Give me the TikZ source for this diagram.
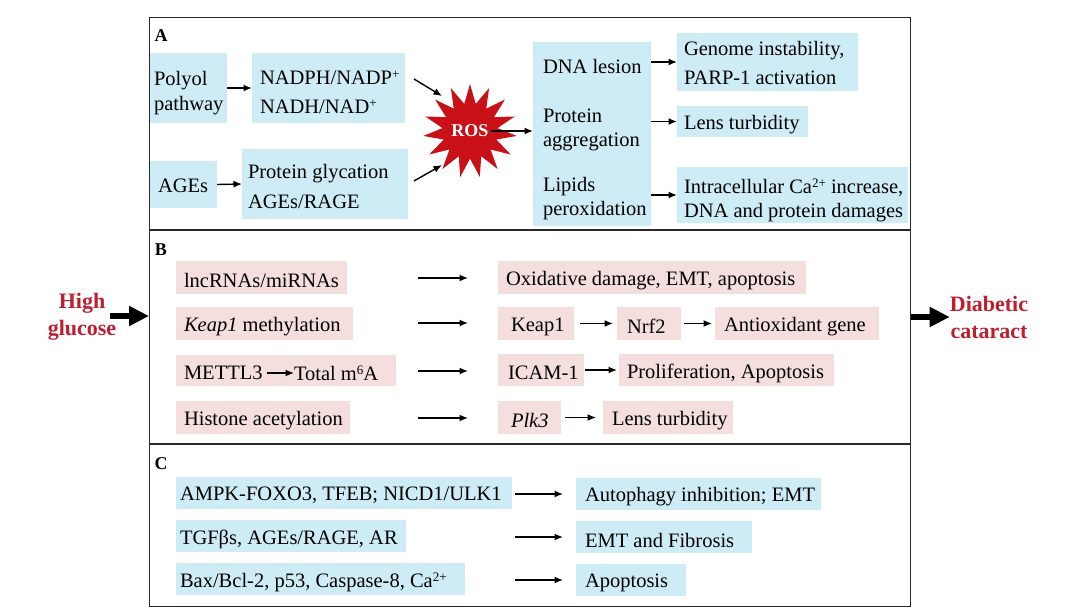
\documentclass[tikz,border=0pt]{standalone}
\usepackage{fontspec}
\setmainfont{Liberation Serif}
\usetikzlibrary{arrows.meta,shapes.geometric}
\definecolor{cyanb}{RGB}{206,236,246}
\definecolor{pinkb}{RGB}{244,222,222}
\definecolor{hgred}{RGB}{190,30,45}
\definecolor{rosred}{RGB}{200,16,22}
\definecolor{framec}{RGB}{40,40,40}
\newcommand{\sps}[1]{\raisebox{6pt}{\fontsize{13}{13}\selectfont #1}}
\newcommand{\bx}[9]{%
 \pgfmathsetmacro{\bxw}{#4-#2}%
 \pgfmathsetmacro{\bxh}{#5-#3}%
 \node[boxbg, fill=#6, minimum width=\bxw pt, minimum height=\bxh pt, anchor=north west] (#1) at (#2,#3) {};%
 \node[txt, anchor=west] (#1-t) at ([xshift=#7pt,yshift=-#9pt]#1.west) {#8};%
}
\begin{document}
\begin{tikzpicture}[x=1pt,y=-1pt,
 boxbg/.style={inner sep=0pt,outer sep=0pt,draw=none},
 txt/.style={inner sep=0pt,outer sep=0pt,font=\fontsize{20.5}{24}\selectfont,align=left,text=black},
 arr/.style={line width=1.4pt,-{Latex[length=8.5pt,width=7pt]}},
 bigarr/.style={line width=6pt,-{Triangle[length=20pt,width=19pt]}},
 plabel/.style={font=\bfseries\fontsize{18}{20}\selectfont,inner sep=0pt},
 redlab/.style={font=\bfseries\fontsize{22}{27}\selectfont,text=hgred,align=center,inner sep=0pt}]
\useasboundingbox (0,0) rectangle (1080,608);
\fill[white] (0,0) rectangle (1080,608);
% frame
\node[draw=framec,line width=1.3pt,minimum width=761pt,minimum height=589pt,anchor=north west,inner sep=0pt] (frame) at (149,17) {};
\draw[framec,line width=1.8pt] (149,230) -- (910,230);
\draw[framec,line width=1.8pt] (149,444) -- (910,444);
% ---------- Panel A
\node[plabel] (la) at (161,36) {A};
\bx{polyol}{150}{53}{227}{123}{cyanb}{4}{Polyol\\[1pt]pathway}{5}
\bx{nad}{252}{53}{405}{123}{cyanb}{8}{NADPH/NADP\sps{+}\\[5pt]NADH/NAD\sps{+}}{4}
\bx{ages}{150}{161}{217}{208}{cyanb}{8}{AGEs}{1}
\bx{pg}{242}{149}{408}{219}{cyanb}{6}{Protein glycation\\[6pt]AGEs/RAGE}{2}
\node[star,star points=15,star point ratio=1.7,minimum size=94pt,fill=rosred,inner sep=0pt,font=\bfseries\fontsize{18}{20}\selectfont,text=white] (ros) at (470,131) {ROS};
\draw[arr] (polyol.east) -- (nad.west);
\draw[arr] (ages.east) -- (pg.west);
\coordinate (r1s) at (414,79); \coordinate (r1e) at (442,96);
\coordinate (r2s) at (414,181); \coordinate (r2e) at (442,165);
\draw[arr] (r1s) -- (r1e);
\draw[arr] (r2s) -- (r2e);
\node[boxbg,fill=cyanb,minimum width=118pt,minimum height=184pt,anchor=north west] (big) at (533,42) {};
\node[txt,anchor=west] (dna) at (543,66) {DNA lesion};
\node[txt,anchor=west] (prot) at (543,129.5) {Protein\\aggregation};
\node[txt,anchor=west] (lip) at (543,198.5) {Lipids\\peroxidation};
\draw[arr] ([xshift=-14pt]ros.east) -- (ros.east -| big.west);
\bx{gen}{677}{33}{858}{91}{cyanb}{7}{Genome instability,\\[5pt]PARP-1 activation}{1}
\bx{lens}{677}{106}{808}{137}{cyanb}{7}{Lens turbidity}{3}
\bx{intra}{677}{167}{908}{223}{cyanb}{7}{Intracellular Ca\sps{2+} increase,\\DNA and protein damages}{5}
\draw[arr] (big.east |- gen.west) -- (gen.west);
\draw[arr] (big.east |- lens.west) -- (lens.west);
\draw[arr] (big.east |- intra.west) -- (intra.west);
% ---------- Panel B
\node[plabel] (lb) at (161,250) {B};
\bx{lnc}{176}{261}{347}{294}{pinkb}{8}{lncRNAs/miRNAs}{3}
\bx{kmeth}{176}{307}{353}{340}{pinkb}{8}{\textit{Keap1} methylation}{3}
\node[boxbg,fill=pinkb,minimum width=220pt,minimum height=31pt,anchor=north west] (mettbox) at (176,355) {};
\node[txt,anchor=west] (mett) at (184,373) {METTL3};
\node[txt,anchor=west] (m6a) at (294,373) {Total m\sps{6}A};
\draw[arr,shorten <=4pt] (mett.east) -- (m6a.west);
\bx{hist}{176}{401}{350}{434}{pinkb}{8}{Histone acetylation}{3}
\bx{ox}{498}{261}{806}{294}{pinkb}{8}{Oxidative damage, EMT, apoptosis}{3}
\bx{keap}{498}{307}{574}{340}{pinkb}{13}{Keap1}{3}
\bx{nrf}{617}{307}{681}{340}{pinkb}{10}{Nrf2}{3}
\bx{anti}{715}{307}{879}{340}{pinkb}{9}{Antioxidant gene}{3}
\bx{icam}{498}{354}{584}{386}{pinkb}{10}{ICAM-1}{3}
\bx{prol}{619}{354}{834}{386}{pinkb}{8}{Proliferation, Apoptosis}{3}
\bx{plk}{498}{401}{561}{434}{pinkb}{13}{\textit{Plk3}}{3}
\bx{lensb}{603}{401}{733}{434}{pinkb}{9}{Lens turbidity}{3}
\coordinate (b1s) at (418,278); \coordinate (b1e) at (468,278);
\coordinate (b2s) at (418,323); \coordinate (b2e) at (468,323);
\coordinate (b3s) at (418,371); \coordinate (b3e) at (468,371);
\coordinate (b4s) at (418,418); \coordinate (b4e) at (468,418);
\draw[arr] (b1s) -- (b1e);
\draw[arr] (b2s) -- (b2e);
\draw[arr] (b3s) -- (b3e);
\draw[arr] (b4s) -- (b4e);
\draw[arr,shorten <=6pt,shorten >=4pt] (keap.east) -- (nrf.west);
\draw[arr,shorten <=3pt,shorten >=3pt] (nrf.east) -- (anti.west);
\draw[arr,shorten <=1pt,shorten >=2pt] (icam.east) -- (prol.west);
\draw[arr,shorten <=4pt,shorten >=7pt] (plk.east) -- (lensb.west);
% ---------- Panel C
\node[plabel] (lc) at (161,464) {C};
\bx{ampk}{176}{477}{512}{509}{cyanb}{4}{AMPK-FOXO3, TFEB; NICD1/ULK1}{2}
\bx{tgf}{176}{520}{406}{552}{cyanb}{4}{TGFβs, AGEs/RAGE, AR}{3}
\bx{bax}{176}{563}{465}{595}{cyanb}{4}{Bax/Bcl-2, p53, Caspase-8, Ca\sps{2+}}{3}
\bx{auto}{576}{478}{821}{510}{cyanb}{9}{Autophagy inhibition; EMT}{3}
\bx{emt}{576}{521}{752}{553}{cyanb}{9}{EMT and Fibrosis}{3}
\bx{apo}{576}{564}{686}{596}{cyanb}{9}{Apoptosis}{3}
\coordinate (c1s) at (515,494); \coordinate (c1e) at (563,494);
\coordinate (c2s) at (515,537); \coordinate (c2e) at (563,537);
\coordinate (c3s) at (515,580); \coordinate (c3e) at (563,580);
\draw[arr] (c1s) -- (c1e);
\draw[arr] (c2s) -- (c2e);
\draw[arr] (c3s) -- (c3e);
% ---------- side labels
\node[redlab] (hg) at (82,317) {High\\glucose};
\coordinate (hgs) at (110,316);
\draw[bigarr] (hgs) -- (hgs -| frame.west);
\node[redlab] (dc) at (989,317) {Diabetic\\cataract};
\draw[bigarr] (frame.east |- dc.west) -- (dc.west);
\end{tikzpicture}
\end{document}
